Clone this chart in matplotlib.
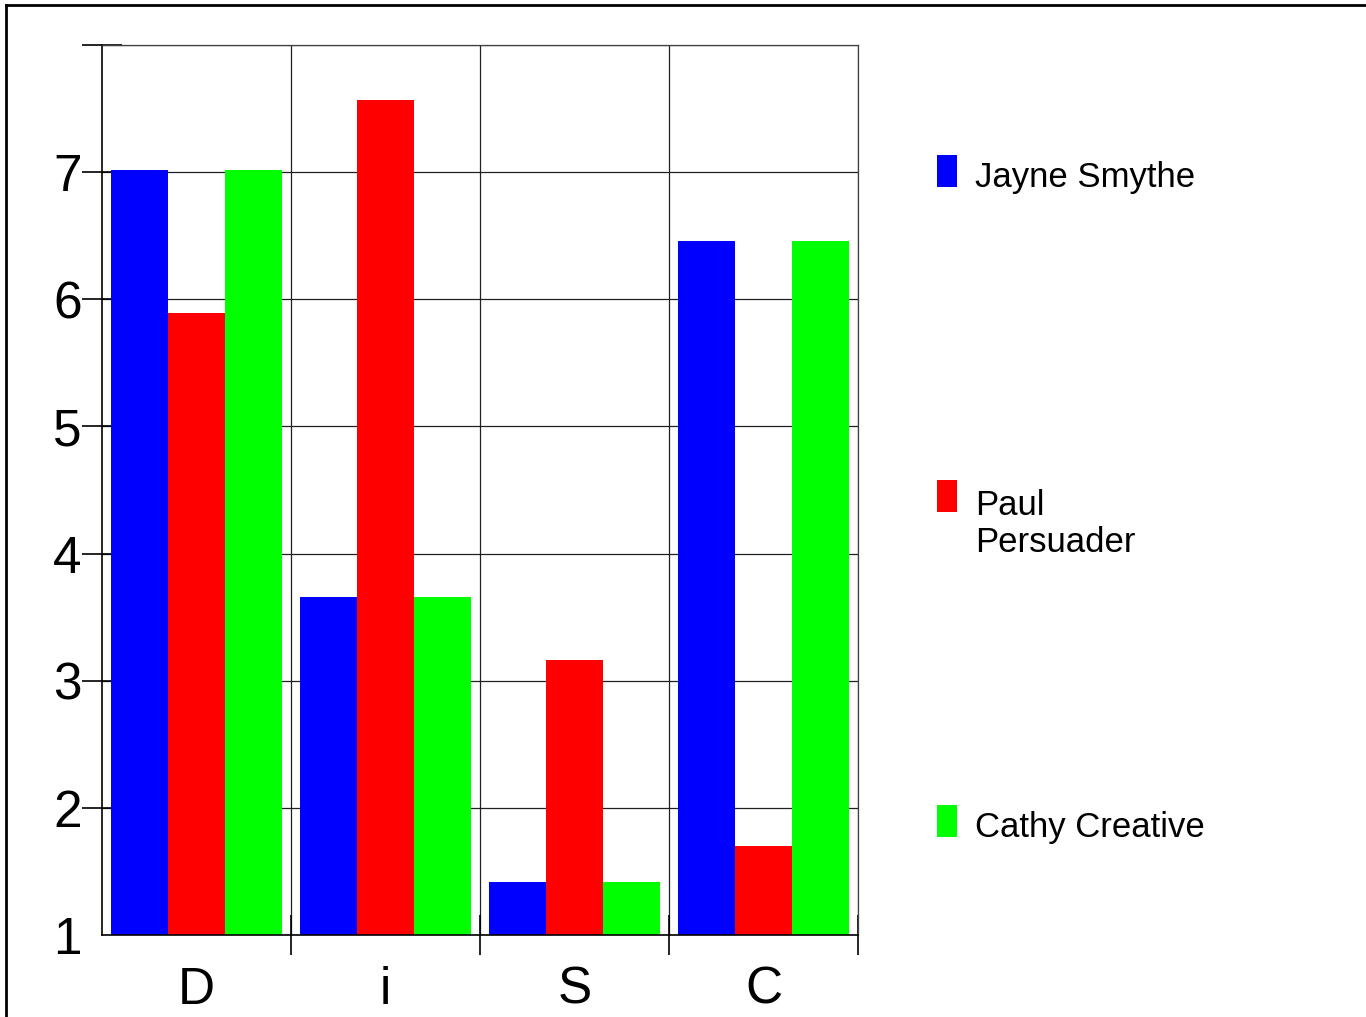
import matplotlib
matplotlib.use("Agg")
import matplotlib.pyplot as plt
from matplotlib.lines import Line2D
from matplotlib.patches import Rectangle
import numpy as np

plt.rcParams["font.family"] = ["Liberation Sans", "DejaVu Sans"]

categories = ["D", "i", "S", "C"]
series_names = ["Jayne Smythe", "Paul Persuader", "Cathy Creative"]
legend_labels = ["Jayne Smythe", "Paul\nPersuader", "Cathy Creative"]
jayne = [7.02, 3.66, 1.42, 6.46]
paul = [5.89, 7.57, 3.16, 1.70]
cathy = [7.02, 3.66, 1.42, 6.46]
colors = ["#0000ff", "#ff0000", "#00ff00"]

fig = plt.figure(figsize=(13.66, 10.17), dpi=100)
ax = fig.add_axes([102 / 1366, 82 / 1017, 756 / 1366, 890 / 1017])

x = np.arange(len(categories))
width = 0.3
for i, vals in enumerate([jayne, paul, cathy]):
    ax.bar(x + (i - 1) * width, np.array(vals) - 1, width, bottom=1,
           color=colors[i], linewidth=0, zorder=2)

ax.set_xlim(-0.5, len(categories) - 0.5)
ax.set_ylim(1, 8)

# y ticks
ax.set_yticks(range(1, 9))
ax.set_yticklabels([str(v) for v in range(1, 8)] + [""], fontsize=37)
ax.tick_params(axis="y", direction="inout", length=29, width=1.2, pad=0)
ax.yaxis.get_major_ticks()[0].tick1line.set_visible(False)

# x ticks: labels in the middle, marks on the boundaries
ax.set_xticks(x)
ax.set_xticklabels(categories, fontsize=37)
ax.tick_params(axis="x", which="major", length=0, pad=22)
ax.set_xticks(np.arange(len(categories)) + 0.5, minor=True)
ax.tick_params(axis="x", which="minor", direction="inout", length=29, width=1.2)

ax.grid(True, which="major", axis="y", color="#202020", linewidth=0.9, zorder=0)
ax.grid(True, which="minor", axis="x", color="#202020", linewidth=0.9, zorder=0)
for side in ["top", "right"]:
    ax.spines[side].set_color("#404040")
    ax.spines[side].set_linewidth(0.9)
for side in ["left", "bottom"]:
    ax.spines[side].set_color("black")
    ax.spines[side].set_linewidth(1.2)

# legend on the right
line_px = 40
legend_y = [187, 512, 837]
for lab, col, yb in zip(legend_labels, colors, legend_y):
    fig.add_artist(Rectangle((937 / 1366, 1 - yb / 1017), 20 / 1366, 32 / 1017,
                             transform=fig.transFigure, color=col, linewidth=0))
    last_base = yb + line_px * lab.count("\n")
    fig.text(975 / 1366, 1 - last_base / 1017, lab, fontsize=25,
             va="baseline", ha="left", linespacing=1.15)

# outer frame (cut at right and bottom)
fig.add_artist(Line2D([6 / 1366, 6 / 1366], [0, 1 - 5 / 1017],
                      transform=fig.transFigure, color="black", linewidth=2))
fig.add_artist(Line2D([6 / 1366, 1], [1 - 5 / 1017, 1 - 5 / 1017],
                      transform=fig.transFigure, color="black", linewidth=2))

fig.savefig("out.png", dpi=100)
